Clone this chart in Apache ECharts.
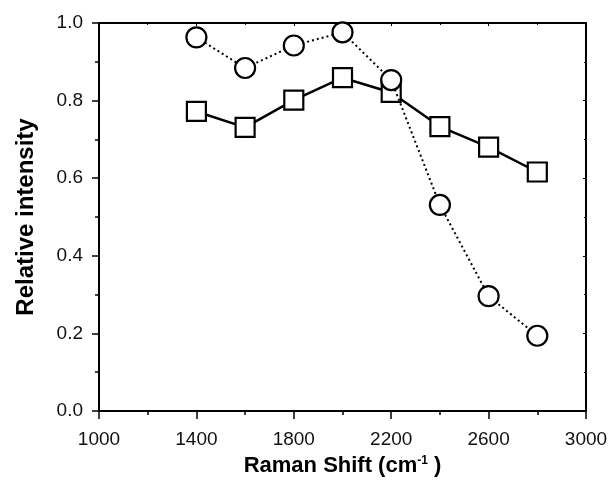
<!DOCTYPE html>
<html><head><meta charset="utf-8">
<script src="https://cdn.jsdelivr.net/npm/echarts@6/dist/echarts.min.js"></script>
<style>html,body{margin:0;padding:0;background:#fff}#c{width:615px;height:482px}</style>
</head><body><div id="c"></div>
<script>
var ramanShift = [1400, 1600, 1800, 2000, 2200, 2400, 2600, 2800];
var squareSeries = [0.772, 0.731, 0.801, 0.859, 0.821, 0.733, 0.680, 0.616];
var circleSeries = [0.963, 0.884, 0.942, 0.976, 0.853, 0.531, 0.296, 0.194];
var xTitle = 'Raman Shift (cm{sup|-1}{p| )}';
var yTitle = 'Relative intensity';

function pairs(xs, ys){ return xs.map(function(x,i){return [x, ys[i]];}); }

var chart = echarts.init(document.getElementById('c'), null, {renderer:'canvas'});
var lblFont = {color:'#111', fontFamily:'Liberation Sans, Arial, sans-serif', fontSize:19};
chart.setOption({
  animation:false,
  grid:{left:99, right:29, top:23, bottom:69},
  xAxis:[{
    type:'value', min:1000, max:3000, interval:400,
    name:xTitle, nameLocation:'middle', nameGap:44,
    nameTextStyle:{color:'#000', fontFamily:'Liberation Sans, Arial, sans-serif', fontSize:22, fontWeight:'bold',
      rich:{sup:{fontSize:12, fontWeight:'bold', verticalAlign:'top', padding:[0,0,10,0], color:'#000'}, p:{fontSize:22,fontWeight:'bold',color:'#000'}}},
    axisLine:{show:true, onZero:false, lineStyle:{color:'#000', width:2}},
    axisTick:{show:true, inside:false, length:8, lineStyle:{color:'#000', width:1.5}},
    minorTick:{show:true, splitNumber:2, length:4, lineStyle:{color:'#000', width:1.5}},
    axisLabel:Object.assign({margin:19, formatter:function(v){return String(v);}}, lblFont),
    splitLine:{show:false}
  },{
    type:'value', min:1000, max:3000, interval:400, position:'top',
    axisLine:{show:true, onZero:false, lineStyle:{color:'#000', width:2}},
    axisTick:{show:true, inside:true, length:3, lineStyle:{color:'#000', width:1}},
    minorTick:{show:true, splitNumber:2, length:2, lineStyle:{color:'#000', width:1}},
    axisLabel:{show:false}, splitLine:{show:false}
  }],
  yAxis:[{
    type:'value', min:0, max:1, interval:0.2,
    name:yTitle, nameLocation:'middle', nameGap:61,
    nameTextStyle:{color:'#000', fontFamily:'Liberation Sans, Arial, sans-serif', fontSize:24, fontWeight:'bold'},
    axisLine:{show:true, onZero:false, lineStyle:{color:'#000', width:2}},
    axisTick:{show:true, inside:false, length:7, lineStyle:{color:'#000', width:1.5}},
    minorTick:{show:true, splitNumber:2, length:4, lineStyle:{color:'#000', width:1.5}},
    axisLabel:Object.assign({margin:16, formatter:function(v){return v.toFixed(1);}}, lblFont),
    splitLine:{show:false}
  },{
    type:'value', min:0, max:1, interval:0.2, position:'right',
    axisLine:{show:true, onZero:false, lineStyle:{color:'#000', width:2}},
    axisTick:{show:true, inside:true, length:3, lineStyle:{color:'#000', width:1}},
    minorTick:{show:true, splitNumber:2, length:2, lineStyle:{color:'#000', width:1}},
    axisLabel:{show:false}, splitLine:{show:false}
  }],
  series:[{
    type:'line', data:pairs(ramanShift, squareSeries),
    symbol:'rect', symbolSize:19, z:2,
    lineStyle:{color:'#000', width:2.5, type:'solid'},
    itemStyle:{color:'#fff', borderColor:'#000', borderWidth:2.2}
  },{
    type:'line', data:pairs(ramanShift, circleSeries),
    symbol:'circle', symbolSize:20, z:3,
    lineStyle:{color:'#000', width:2, type:[2,3]},
    itemStyle:{color:'#fff', borderColor:'#000', borderWidth:2.2}
  }]
});
</script></body></html>
